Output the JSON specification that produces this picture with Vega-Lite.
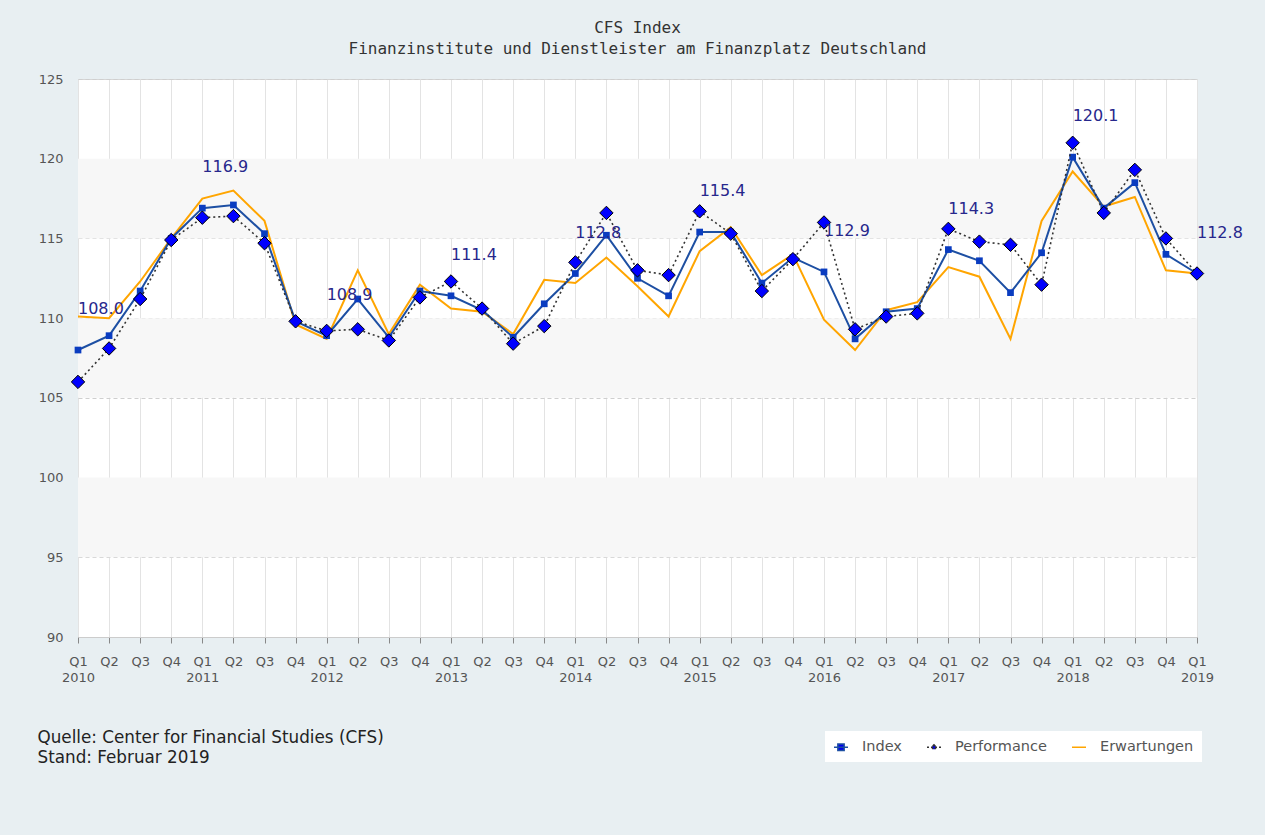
{
  "$schema": "https://vega.github.io/schema/vega-lite/v6.json",
  "width": 1119,
  "height": 558,
  "autosize": {"type": "none"},
  "padding": {"left": 78, "top": 79, "right": 68, "bottom": 198},
  "background": "#e8eff2",
  "title": {
    "text": "CFS Index",
    "subtitle": "Finanzinstitute und Dienstleister am Finanzplatz Deutschland",
    "font": "DejaVu Sans Mono", "fontSize": 16, "fontWeight": "normal", "color": "#333333",
    "subtitleFont": "DejaVu Sans Mono", "subtitleFontSize": 16, "subtitleColor": "#333333",
    "subtitlePadding": 5, "anchor": "middle", "offset": 16
  },
  "config": {"view": {"fill": "white", "stroke": "#d6d6d6"}, "font": "DejaVu Sans"},
  "datasets": {
    "cfs": [
      {"q": "2010 Q1", "Index": 108.0, "Performance": 106.0, "Erwartungen": 110.1},
      {"q": "2010 Q2", "Index": 108.9, "Performance": 108.1, "Erwartungen": 110.0},
      {"q": "2010 Q3", "Index": 111.7, "Performance": 111.2, "Erwartungen": 112.3},
      {"q": "2010 Q4", "Index": 115.0, "Performance": 114.9, "Erwartungen": 115.0},
      {"q": "2011 Q1", "Index": 116.9, "Performance": 116.3, "Erwartungen": 117.5},
      {"q": "2011 Q2", "Index": 117.1, "Performance": 116.4, "Erwartungen": 118.0},
      {"q": "2011 Q3", "Index": 115.3, "Performance": 114.7, "Erwartungen": 116.1},
      {"q": "2011 Q4", "Index": 109.8, "Performance": 109.8, "Erwartungen": 109.6},
      {"q": "2012 Q1", "Index": 108.9, "Performance": 109.2, "Erwartungen": 108.7},
      {"q": "2012 Q2", "Index": 111.2, "Performance": 109.3, "Erwartungen": 113.0},
      {"q": "2012 Q3", "Index": 108.8, "Performance": 108.6, "Erwartungen": 109.0},
      {"q": "2012 Q4", "Index": 111.7, "Performance": 111.3, "Erwartungen": 112.1},
      {"q": "2013 Q1", "Index": 111.4, "Performance": 112.3, "Erwartungen": 110.6},
      {"q": "2013 Q2", "Index": 110.5, "Performance": 110.6, "Erwartungen": 110.4},
      {"q": "2013 Q3", "Index": 108.8, "Performance": 108.4, "Erwartungen": 109.0},
      {"q": "2013 Q4", "Index": 110.9, "Performance": 109.5, "Erwartungen": 112.4},
      {"q": "2014 Q1", "Index": 112.8, "Performance": 113.5, "Erwartungen": 112.2},
      {"q": "2014 Q2", "Index": 115.2, "Performance": 116.6, "Erwartungen": 113.8},
      {"q": "2014 Q3", "Index": 112.5, "Performance": 113.0, "Erwartungen": 112.0},
      {"q": "2014 Q4", "Index": 111.4, "Performance": 112.7, "Erwartungen": 110.1},
      {"q": "2015 Q1", "Index": 115.4, "Performance": 116.7, "Erwartungen": 114.2},
      {"q": "2015 Q2", "Index": 115.4, "Performance": 115.3, "Erwartungen": 115.7},
      {"q": "2015 Q3", "Index": 112.2, "Performance": 111.7, "Erwartungen": 112.7},
      {"q": "2015 Q4", "Index": 113.8, "Performance": 113.7, "Erwartungen": 114.0},
      {"q": "2016 Q1", "Index": 112.9, "Performance": 116.0, "Erwartungen": 109.9},
      {"q": "2016 Q2", "Index": 108.7, "Performance": 109.3, "Erwartungen": 108.0},
      {"q": "2016 Q3", "Index": 110.4, "Performance": 110.1, "Erwartungen": 110.5},
      {"q": "2016 Q4", "Index": 110.6, "Performance": 110.3, "Erwartungen": 111.0},
      {"q": "2017 Q1", "Index": 114.3, "Performance": 115.6, "Erwartungen": 113.2},
      {"q": "2017 Q2", "Index": 113.6, "Performance": 114.8, "Erwartungen": 112.6},
      {"q": "2017 Q3", "Index": 111.6, "Performance": 114.6, "Erwartungen": 108.7},
      {"q": "2017 Q4", "Index": 114.1, "Performance": 112.1, "Erwartungen": 116.1},
      {"q": "2018 Q1", "Index": 120.1, "Performance": 121.0, "Erwartungen": 119.2},
      {"q": "2018 Q2", "Index": 116.9, "Performance": 116.6, "Erwartungen": 117.0},
      {"q": "2018 Q3", "Index": 118.5, "Performance": 119.3, "Erwartungen": 117.6},
      {"q": "2018 Q4", "Index": 114.0, "Performance": 115.0, "Erwartungen": 113.0},
      {"q": "2019 Q1", "Index": 112.8, "Performance": 112.8, "Erwartungen": 112.8}
    ],
    "bands": [
      {"lo": 95, "hi": 100},
      {"lo": 105, "hi": 110},
      {"lo": 115, "hi": 120}
    ]
  },
  "data": {"name": "cfs"},
  "encoding": {
    "x": {
      "field": "q", "type": "ordinal", "sort": null,
      "scale": {"type": "point", "padding": 0},
      "axis": {
        "title": ["Quelle: Center for Financial Studies (CFS)", "Stand: Februar 2019"],
        "titleFont": "DejaVu Sans", "titleFontSize": 16.8, "titleFontWeight": "normal", "titleColor": "#222222",
        "titleAnchor": "start", "titleAlign": "left", "titleBaseline": "top",
        "titleX": -41, "titleY": 92, "titleLineHeight": 20,
        "labelAngle": 0, "labelFont": "DejaVu Sans", "labelFontSize": 13, "labelColor": "#555555",
        "labelPadding": 12, "labelLineHeight": 16, "labelBaseline": "top",
        "labelExpr": "indexof(datum.value,'Q1')>=0 ? ['Q1', slice(datum.value,0,4)] : slice(datum.value,5)",
        "tickColor": "#888888", "tickSize": 6, "domainColor": "#cccccc",
        "grid": true, "gridColor": "#e3e3e3"
      }
    },
    "y": {
      "field": "v", "type": "quantitative",
      "scale": {"domain": [90, 125], "nice": false, "zero": false},
      "axis": {
        "title": null, "values": [90, 95, 100, 105, 110, 115, 120, 125],
        "grid": true, "gridDash": [4, 3], "gridColor": "#cfcfcf",
        "ticks": false, "domain": false, "labelPadding": 15,
        "labelFont": "DejaVu Sans", "labelFontSize": 13, "labelColor": "#555555"
      }
    }
  },
  "layer": [
    {
      "data": {"name": "bands"},
      "mark": {"type": "rect", "fill": "#f7f7f7"},
      "encoding": {
        "x": {"value": 0},
        "x2": {"value": "width"},
        "y": {
          "field": "lo", "type": "quantitative",
          "scale": {"domain": [90, 125], "nice": false, "zero": false},
          "axis": {
            "title": null, "values": [90, 95, 100, 105, 110, 115, 120, 125],
            "grid": true, "gridDash": [4, 3], "gridColor": "#cfcfcf",
            "ticks": false, "domain": false, "labelPadding": 15,
            "labelFont": "DejaVu Sans", "labelFontSize": 13, "labelColor": "#555555"
          }
        },
        "y2": {"field": "hi"}
      }
    },
    {
      "transform": [
        {"fold": ["Index", "Performance", "Erwartungen"], "as": ["s", "v"]},
        {"filter": "datum.s === 'Erwartungen'"}
      ],
      "mark": {"type": "line", "strokeWidth": 2},
      "encoding": {
        "color": {
          "field": "s", "type": "nominal",
          "scale": {"domain": ["Index", "Performance", "Erwartungen"], "range": ["#1d4fa3", "#333333", "#ffa500"]},
          "legend": {
            "title": null, "orient": "none", "legendX": 747, "legendY": 652,
            "direction": "horizontal", "fillColor": "white", "padding": 8,
            "labelFont": "DejaVu Sans", "labelFontSize": 14.5, "labelColor": "#555555",
            "symbolSize": 196, "columnPadding": 22, "labelOffset": 13, "symbolStrokeWidth": 1.5,
            "symbolType": "stroke",
            "encode": {
              "symbols": {
                "update": {
                  "shape": {"signal": "datum.value === 'Index' ? 'M-1,0H1M-0.45,-0.45H0.45V0.45H-0.45Z' : datum.value === 'Performance' ? 'M-1,0H1M0,-0.35L0.35,0L0,0.35L-0.35,0Z' : 'M-1,0H1'"},
                  "fill": {"signal": "datum.value === 'Erwartungen' ? 'transparent' : '#0000ee'"},
                  "strokeDash": {"signal": "datum.value === 'Performance' ? [2, 2] : []"}
                }
              }
            }
          }
        }
      }
    },
    {
      "transform": [
        {"fold": ["Index", "Performance", "Erwartungen"], "as": ["s", "v"]},
        {"filter": "datum.s === 'Index'"}
      ],
      "mark": {"type": "line", "strokeWidth": 2},
      "encoding": {
        "color": {"field": "s", "type": "nominal"}
      }
    },
    {
      "transform": [
        {"fold": ["Index", "Performance", "Erwartungen"], "as": ["s", "v"]},
        {"filter": "datum.s === 'Index'"}
      ],
      "mark": {"type": "point", "shape": "square", "filled": true, "size": 45, "color": "#0a3cc0", "opacity": 1},
      "encoding": {}
    },
    {
      "transform": [
        {"fold": ["Index", "Performance", "Erwartungen"], "as": ["s", "v"]},
        {"filter": "datum.s === 'Performance'"}
      ],
      "mark": {"type": "line", "strokeWidth": 1.6, "strokeDash": [2, 3]},
      "encoding": {
        "color": {"field": "s", "type": "nominal"}
      }
    },
    {
      "transform": [
        {"fold": ["Index", "Performance", "Erwartungen"], "as": ["s", "v"]},
        {"filter": "datum.s === 'Performance'"}
      ],
      "mark": {"type": "point", "shape": "diamond", "filled": true, "size": 180, "fill": "#0000ff", "stroke": "#000000", "strokeWidth": 1, "opacity": 1},
      "encoding": {}
    },
    {
      "transform": [
        {"fold": ["Index", "Performance", "Erwartungen"], "as": ["s", "v"]},
        {"filter": "datum.s === 'Index' && indexof(datum.q, 'Q1') >= 0"}
      ],
      "mark": {"type": "text", "align": "left", "baseline": "middle", "dy": -41, "fontSize": 16, "color": "#27278c", "font": "DejaVu Sans"},
      "encoding": {
        "text": {"field": "v", "type": "quantitative", "format": ".1f"}
      }
    }
  ]
}
